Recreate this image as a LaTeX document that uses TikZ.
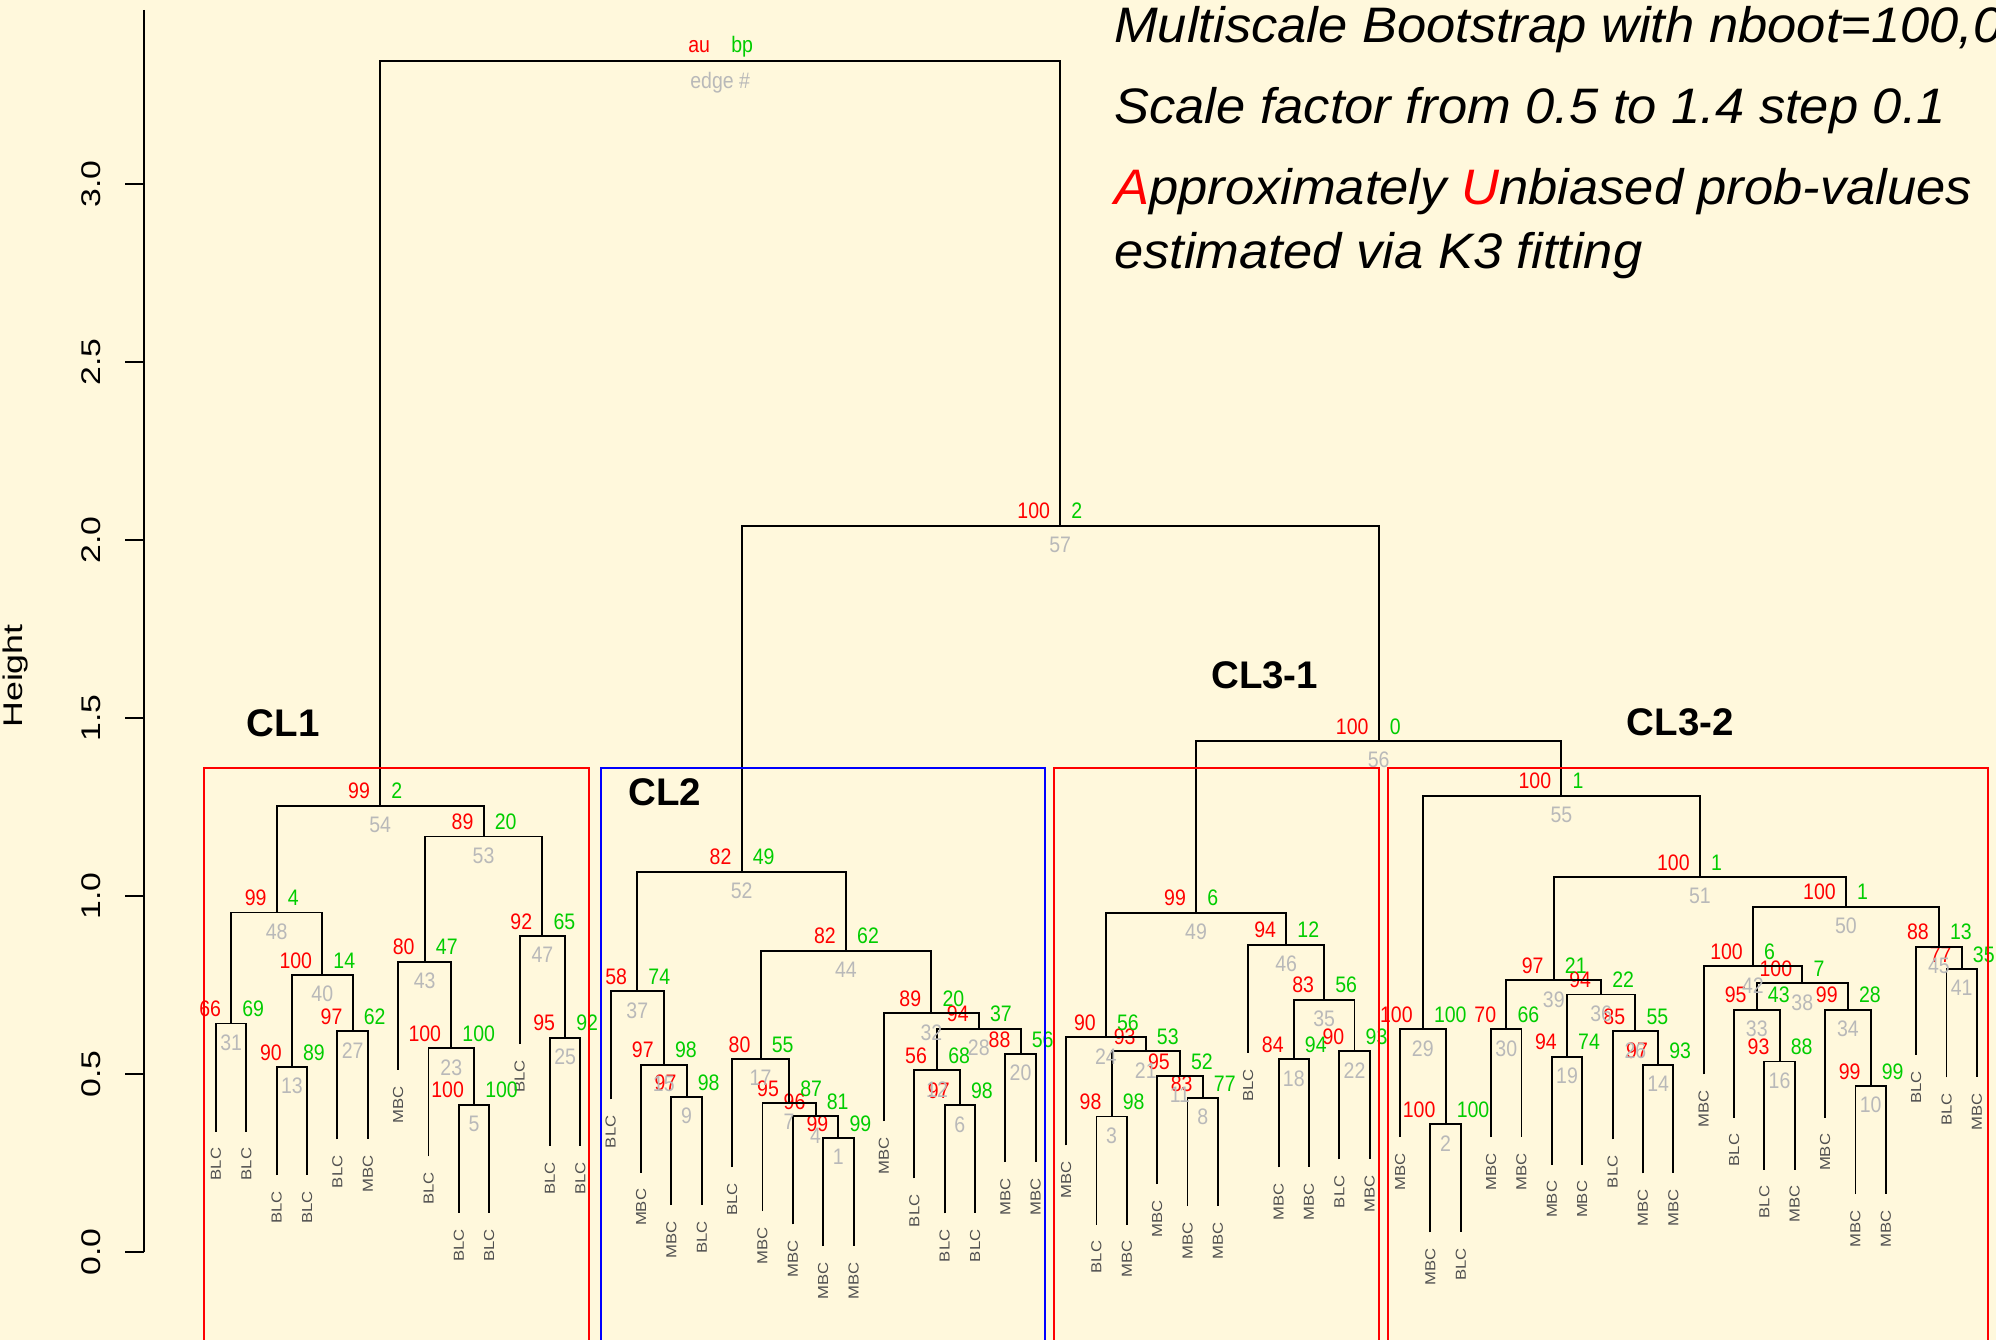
\documentclass[tikz,border=0pt]{standalone}
\usepackage{fontspec}
\setmainfont{Liberation Sans}
\usetikzlibrary{calc}
\definecolor{bg}{RGB}{255,248,220}
\definecolor{aucol}{RGB}{255,0,0}
\definecolor{bpcol}{RGB}{0,205,0}
\definecolor{edgecol}{RGB}{185,185,185}
\definecolor{leafcol}{RGB}{80,80,80}
\begin{document}
\begin{tikzpicture}[x=1pt,y=-1pt,
  tree/.style={line width=1.9pt},
  num/.style={inner sep=0pt,font=\fontsize{19.5}{22}\selectfont,yscale=1.15},
  au/.style={num,text=aucol,anchor=base east},
  bp/.style={num,text=bpcol,anchor=base west},
  edgeno/.style={num,text=edgecol,anchor=north},
  leaflbl/.style={inner sep=0pt,font=\fontsize{14.5}{17}\selectfont,text=leafcol,rotate=90,xscale=1.15,anchor=east},
  ticklbl/.style={inner sep=0pt,font=\fontsize{27}{30}\selectfont,rotate=90,xscale=1.25,anchor=base},
  clbox/.style={line width=1.8pt},
  cltitle/.style={inner sep=0pt,anchor=base west,font=\fontsize{38.5}{44}\selectfont\bfseries},
  title/.style={inner sep=0pt,anchor=base west,font=\fontsize{52.5}{60}\selectfont\itshape,yscale=0.95}]
\useasboundingbox (0,0) rectangle (1996,1340);
\fill[bg] (0,0) rectangle (1996,1340);
\clip (0,0) rectangle (1996,1340);

% axis
\draw[line width=1.7pt] (144,10) -- (144,1252);
\foreach \k/\v in {0/0.0,1/0.5,2/1.0,3/1.5,4/2.0,5/2.5,6/3.0} {
  \draw[line width=1.7pt] (125,1252-\k*178) -- (144,1252-\k*178);
  \node[ticklbl] (tk\k) at (100,1252-\k*178) {\v};
}
\node[ticklbl,xscale=1.06] (ylab) at (22,676) {Height};

% leaves: index/bottom end/label
\foreach \i/\yb/\lab in {1/1131.5/BLC,2/1131.5/BLC,3/1175/BLC,4/1175/BLC,5/1139.4/BLC,
  6/1139.4/MBC,7/1069.8/MBC,8/1156.3/BLC,9/1212.8/BLC,10/1212.8/BLC,11/1044.2/BLC,
  12/1145.8/BLC,13/1145.8/BLC,14/1099.4/BLC,15/1172.6/MBC,16/1205/MBC,17/1205/BLC,
  18/1167/BLC,19/1211.2/MBC,20/1224.4/MBC,21/1246.2/MBC,22/1246.2/MBC,23/1121.2/MBC,
  24/1178.4/BLC,25/1213.4/BLC,26/1213.4/BLC,27/1162/MBC,28/1162/MBC,29/1145.3/MBC,
  30/1224.5/BLC,31/1224.5/MBC,32/1184/MBC,33/1206/MBC,34/1206/MBC,35/1052.9/BLC,
  36/1167.3/MBC,37/1167.3/MBC,38/1159.4/BLC,39/1159.4/MBC,40/1137.2/MBC,41/1232.3/MBC,
  42/1232.3/BLC,43/1137.2/MBC,44/1137.2/MBC,45/1164.6/MBC,46/1164.6/MBC,47/1139.4/BLC,
  48/1173.3/MBC,49/1173.3/MBC,50/1074.3/MBC,51/1117.6/BLC,52/1169.5/BLC,53/1169.5/MBC,
  54/1117.6/MBC,55/1194/MBC,56/1194/MBC,57/1054.8/BLC,58/1077.3/BLC,59/1077.3/MBC} {
  \coordinate (l\i) at ({216+(\i-1)*30.36},\yb);
  \node[leaflbl] (lt\i) at ({216+(\i-1)*30.36},\yb+16) {\lab};
}

% merges: edge/left/right/height/au/bp
\foreach \e/\ca/\cb/\hy/\pa/\pb in {
  31/l1/l2/1023.5/66/69, 13/l3/l4/1067/90/89, 27/l5/l6/1031.4/97/62,
  40/e13/e27/975/100/14, 48/e31/e40/912.5/99/4, 5/l9/l10/1104.8/100/100,
  23/l8/e5/1048.3/100/100, 43/l7/e23/961.8/80/47, 25/l12/l13/1037.8/95/92,
  47/l11/e25/936.2/92/65, 53/e43/e47/836.5/89/20, 54/e48/e53/805.7/99/2,
  9/l16/l17/1097/97/98, 15/l15/e9/1064.6/97/98, 37/l14/e15/991.4/58/74,
  1/l21/l22/1138.2/99/99, 4/l20/e1/1116.4/96/81, 7/l19/e4/1103.2/95/87,
  17/l18/e7/1059/80/55, 6/l25/l26/1105.4/97/98, 12/l24/e6/1070.4/56/68,
  20/l27/l28/1054/88/56, 28/e12/e20/1028.9/94/37, 32/l23/e28/1013.2/89/20,
  44/e17/e32/950.7/82/62, 52/e37/e44/871.8/82/49,
  3/l30/l31/1116.5/98/98, 8/l33/l34/1098/83/77, 11/l32/e8/1076/95/52,
  21/e3/e11/1051.4/93/53, 24/l29/e21/1037.3/90/56, 18/l36/l37/1059.3/84/94,
  22/l38/l39/1051.4/90/93, 35/e18/e22/999.9/83/56, 46/l35/e35/944.9/94/12,
  49/e24/e46/912.8/99/6,
  2/l41/l42/1124.3/100/100, 29/l40/e2/1029.2/100/100, 30/l43/l44/1029.2/70/66,
  19/l45/l46/1056.6/94/74, 14/l48/l49/1065.3/97/93, 26/l47/e14/1031.4/85/55,
  36/e19/e26/994.5/94/22, 39/e30/e36/980.2/97/21, 16/l52/l53/1061.5/93/88,
  33/l51/e16/1009.6/95/43, 10/l55/l56/1086/99/99, 34/l54/e10/1009.6/99/28,
  38/e33/e34/983.3/100/7, 42/l50/e38/966.3/100/6, 41/l58/l59/969.3/77/35,
  45/l57/e41/946.8/88/13, 50/e42/e45/906.9/100/1, 51/e39/e50/877.2/100/1,
  55/e29/e51/795.9/100/1, 56/e49/e55/741.1/100/0, 57/e52/e56/525.7/100/2} {
  \coordinate (m) at ($(\ca)!0.5!(\cb)$);
  \coordinate (h) at (0,\hy);
  \coordinate (e\e) at (m |- h);
  \draw[tree] (\ca) |- (e\e) -| (\cb);
  \node[au] (au\e) at ([xshift=-10pt,yshift=7pt]e\e) {\pa};
  \node[bp] (bp\e) at ([xshift=11pt,yshift=7pt]e\e) {\pb};
  \node[edgeno] (ed\e) at ([yshift=-11pt]e\e) {\e};
}

% root with legend
\coordinate (m) at ($(e54)!0.5!(e57)$);
\coordinate (h) at (0,60.7);
\coordinate (e58) at (m |- h);
\draw[tree] (e54) |- (e58) -| (e57);
\node[au] (au58) at ([xshift=-10pt,yshift=8pt]e58) {au};
\node[bp] (bp58) at ([xshift=11pt,yshift=8pt]e58) {bp};
\node[edgeno] (ed58) at ([yshift=-11pt]e58) {edge \#};

% clusters
\draw[clbox,red] (204,1345) -- (204,768) -- (589,768) -- (589,1345);
\draw[clbox,blue] (600.7,1345) -- (600.7,768) -- (1045,768) -- (1045,1345);
\draw[clbox,red] (1054,1345) -- (1054,768) -- (1379.3,768) -- (1379.3,1345);
\draw[clbox,red] (1388,1345) -- (1388,768) -- (1988.3,768) -- (1988.3,1345);
\node[cltitle] (cl1) at (246.5,736.7) {CL1};
\node[cltitle] (cl2) at (628.3,805) {CL2};
\node[cltitle] (cl31) at (1211,688) {CL3-1};
\node[cltitle] (cl32) at (1626.7,735) {CL3-2};

% title
\node[title] (ttl1) at (1114,42.5) {Multiscale Bootstrap with nboot=100,000};
\node[title] (ttl2) at (1114,123.3) {Scale factor from 0.5 to 1.4 step 0.1};
\node[title] (ttl3) at (1114,205) {\textcolor{red}{A}pproximately \textcolor{red}{U}nbiased prob-values};
\node[title] (ttl4) at (1114,268.3) {estimated via K3 fitting};
\end{tikzpicture}
\end{document}
